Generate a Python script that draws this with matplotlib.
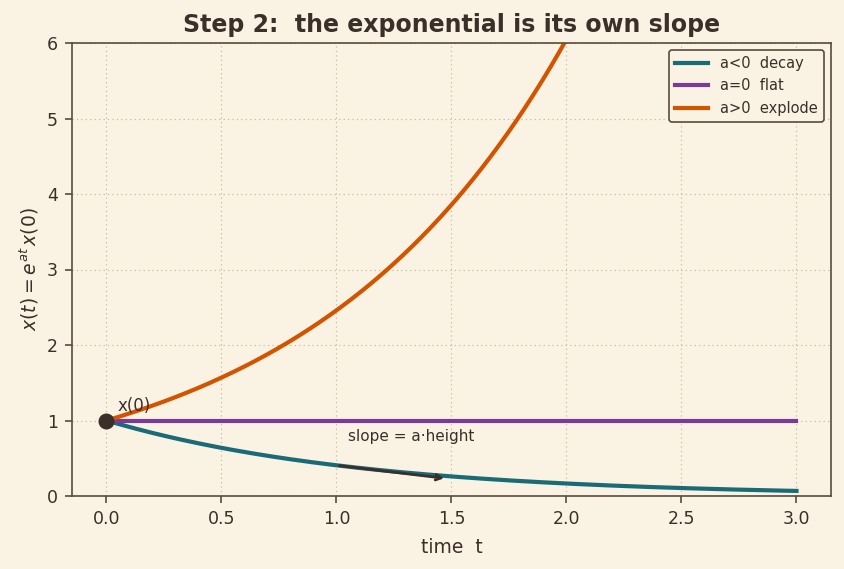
import numpy as np
import matplotlib.pyplot as plt

# growth rates for the three cases and initial value
rates = [-0.9, 0.0, 0.9]
labels = ["a<0  decay", "a=0  flat", "a>0  explode"]
colors = ["#1a6b78", "#7a3b98", "#d35400"]
x0 = 1.0
t_max = 3.0
# tangent arrow on the decay curve
arrow_t = [1.0, 1.48]

bg = "#faf2e2"
ink = "#3b2f2a"
plt.rcParams.update({
    "font.family": "DejaVu Sans",
    "text.color": ink,
    "axes.labelcolor": ink,
    "xtick.color": ink,
    "ytick.color": ink,
})

fig = plt.figure(figsize=(8.45, 5.69), dpi=100, facecolor=bg)
ax = fig.add_axes([72 / 845, 1 - 496 / 569, 759 / 845, 453 / 569])
ax.set_facecolor(bg)

t = np.linspace(0, t_max, 400)
for a, lab, c in zip(rates, labels, colors):
    ax.plot(t, x0 * np.exp(a * t), color=c, lw=3.0, label=lab)

ax.plot(0, x0, "o", color=ink, ms=10.5, zorder=5)
ax.annotate("x(0)", (0, x0), xytext=(8, 7), textcoords="offset points", fontsize=12)

a = rates[0]
y1 = x0 * np.exp(a * arrow_t[0])
y2 = y1 + a * y1 * (arrow_t[1] - arrow_t[0])
ax.annotate("", xy=(arrow_t[1], y2), xytext=(arrow_t[0], y1),
            arrowprops=dict(arrowstyle="->", color=ink, lw=2))
ax.text(1.05, 0.73, "slope = a·height", fontsize=11)

ax.set_xlim(-0.15, 3.15)
ax.set_ylim(0, 6)
ax.grid(True, color="#c4b393", lw=0.8, dashes=(1, 3))
for s in ax.spines.values():
    s.set_color("#5a4a3e")
    s.set_linewidth(1.2)
ax.tick_params(labelsize=12.5, length=5, width=1.2, color="#5a4a3e", pad=5)
ax.set_xlabel("time  t", fontsize=13.5, labelpad=7)
ax.set_ylabel(r"$x(t) = e^{at}\,x(0)$", fontsize=13.5)
ax.set_title("Step 2:  the exponential is its own slope", fontsize=17,
             fontweight="bold", color=ink, pad=8)
leg = ax.legend(loc="upper right", fontsize=10.5, facecolor=bg, edgecolor="#5a4a3e",
                framealpha=1, handlelength=2.3)
leg.get_frame().set_linewidth(1.2)

fig.savefig("out.png", dpi=100, facecolor=bg)
